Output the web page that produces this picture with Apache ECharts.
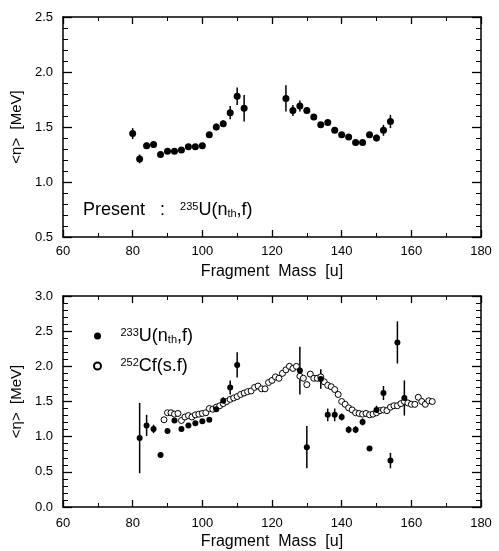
<!DOCTYPE html>
<html>
<head>
<meta charset="utf-8">
<script src="https://cdn.jsdelivr.net/npm/echarts@6/dist/echarts.min.js"></script>
<style>
  html, body { margin: 0; padding: 0; background: #fff; }
  #main { width: 499px; height: 551px; }
</style>
</head>
<body>
<div id="main"></div>
<script>
// top panel: present work, 235U(nth,f)
const topMass = [80, 82, 84, 86, 88, 90, 92, 94, 96, 98, 100, 102, 104, 106, 108, 110, 112,
  124, 126, 128, 130, 132, 134, 136, 138, 140, 142, 144, 146, 148, 150, 152, 154];
const topEta = [1.44, 1.21, 1.33, 1.34, 1.25, 1.28, 1.28, 1.29, 1.32, 1.32, 1.33, 1.43, 1.50, 1.53, 1.63, 1.78, 1.67,
  1.76, 1.65, 1.69, 1.65, 1.59, 1.52, 1.54, 1.47, 1.43, 1.41, 1.36, 1.36, 1.43, 1.40, 1.47, 1.55];
const topErr = [0.05, 0.04, 0.03, 0.03, 0.02, 0.02, 0.02, 0.02, 0.02, 0.02, 0.02, 0.02, 0.03, 0.03, 0.06, 0.08, 0.12,
  0.12, 0.05, 0.05, 0.03, 0.02, 0.02, 0.02, 0.02, 0.02, 0.02, 0.02, 0.02, 0.02, 0.03, 0.05, 0.06];

// bottom panel: 233U(nth,f)
const u233Mass = [82, 84, 86, 88, 90, 92, 94, 96, 98, 100, 102, 104, 106, 108, 110,
  128, 130, 134, 136, 138, 140, 142, 144, 146, 148, 150, 152, 154, 156, 158];
const u233Eta = [0.98, 1.16, 1.11, 0.74, 1.08, 1.23, 1.11, 1.16, 1.19, 1.22, 1.24, 1.39, 1.51, 1.70, 2.02,
  1.94, 0.85, 1.82, 1.31, 1.31, 1.28, 1.10, 1.10, 1.21, 0.83, 1.38, 1.62, 0.66, 2.34, 1.55];
const u233Err = [0.5, 0.15, 0.06, 0.04, 0, 0, 0, 0, 0, 0, 0, 0.03, 0.05, 0.1, 0.18,
  0.34, 0.3, 0.14, 0.09, 0.09, 0.05, 0.05, 0.05, 0.05, 0.03, 0.06, 0.1, 0.11, 0.3, 0.25];

// bottom panel: 252Cf(s.f)
const cfMass = [89, 90, 91, 92, 93, 94, 95, 96, 97, 98, 99, 100, 101, 102, 103, 104, 105, 106, 107, 108,
  109, 110, 111, 112, 113, 114, 115, 116, 117, 118, 119, 120, 121, 122, 123, 124, 125, 126, 127, 128,
  129, 130, 131, 132, 133, 134, 135, 136, 137, 138, 139, 140, 141, 142, 143, 144, 145, 146, 147, 148,
  149, 150, 151, 152, 153, 154, 155, 156, 157, 158, 159, 160, 161, 162, 163, 164, 165, 166];
const cfEta = [1.24, 1.34, 1.34, 1.32, 1.33, 1.23, 1.28, 1.30, 1.28, 1.31, 1.32, 1.33, 1.34, 1.40, 1.39, 1.42, 1.44, 1.47, 1.50, 1.53,
  1.55, 1.57, 1.60, 1.62, 1.64, 1.65, 1.70, 1.72, 1.68, 1.68, 1.77, 1.80, 1.85, 1.83, 1.90, 1.95, 2.00, 1.97, 2.00, 1.86,
  1.83, 1.74, 1.89, 1.83, 1.83, 1.85, 1.78, 1.73, 1.71, 1.67, 1.60, 1.50, 1.46, 1.41, 1.38, 1.34, 1.33, 1.32, 1.33, 1.31,
  1.32, 1.34, 1.37, 1.38, 1.37, 1.42, 1.44, 1.44, 1.47, 1.50, 1.48, 1.46, 1.46, 1.56, 1.50, 1.46, 1.51, 1.50];

const FONT = 'Liberation Sans, Arial, sans-serif';

const chart = echarts.init(document.getElementById('main'));

// vertical error bars
function errBar(params, api) {
  const e = api.value(2);
  if (!e) return null;
  const lo = api.coord([api.value(0), api.value(1) - e]);
  const hi = api.coord([api.value(0), api.value(1) + e]);
  return {
    type: 'line',
    shape: { x1: lo[0], y1: lo[1], x2: hi[0], y2: hi[1] },
    style: { stroke: '#000', lineWidth: 1.5 }
  };
}

function xAx(grid, pos, showLabel, labelMargin, nameGap) {
  return {
    type: 'value', gridIndex: grid, position: pos,
    min: 60, max: 180, interval: 20,
    axisLine: { show: true, onZero: false, lineStyle: { color: '#000', width: 1.5 } },
    axisTick: { show: true, inside: true, length: 7, lineStyle: { color: '#000', width: 1.3 } },
    minorTick: { show: true, splitNumber: 2, length: 4, lineStyle: { color: '#000', width: 1 } },
    splitLine: { show: false },
    axisLabel: { show: showLabel, color: '#000', fontSize: 13, fontFamily: FONT, margin: labelMargin },
    name: showLabel ? 'Fragment  Mass  [u]' : '',
    nameLocation: 'middle', nameGap: nameGap,
    nameTextStyle: { color: '#000', fontSize: 16, fontFamily: FONT }
  };
}

function yAx(grid, pos, min, max, showLabel) {
  return {
    type: 'value', gridIndex: grid, position: pos,
    min: min, max: max, interval: 0.5,
    axisLine: { show: true, onZero: false, lineStyle: { color: '#000', width: 1.5 } },
    axisTick: { show: true, inside: true, length: 9, lineStyle: { color: '#000', width: 1.3 } },
    minorTick: { show: true, splitNumber: 5, length: 5, lineStyle: { color: '#000', width: 1 } },
    splitLine: { show: false },
    axisLabel: { show: showLabel, color: '#000', fontSize: 13, fontFamily: FONT, margin: 10,
      formatter: v => v.toFixed(1) },
    name: showLabel ? '<η>  [MeV]' : '',
    nameLocation: 'middle', nameGap: 38, nameRotate: 90,
    nameTextStyle: { color: '#000', fontSize: 15, fontFamily: FONT }
  };
}

const richText = {
  n: { fontSize: 18, fontFamily: FONT, color: '#000' },
  sup: { fontSize: 11, fontFamily: FONT, color: '#000', verticalAlign: 'top' },
  sub: { fontSize: 11, fontFamily: FONT, color: '#000', verticalAlign: 'bottom' }
};

const legendNames = {
  '233U': '{sup|233}{n|U(n}{sub|th}{n|,f)}',
  '252Cf': '{sup|252}{n|Cf(s.f)}'
};

const option = {
  animation: false,
  backgroundColor: '#fff',
  grid: [
    { left: 63, top: 17, width: 418, height: 220 },
    { left: 63, top: 296, width: 418, height: 218 }
  ],
  xAxis: [xAx(0, 'bottom', true, 8, 27), xAx(0, 'top', false, 8, 27),
    xAx(1, 'bottom', true, 10, 27), xAx(1, 'top', false, 10, 27)],
  yAxis: [yAx(0, 'left', 0.5, 2.5, true), yAx(0, 'right', 0.5, 2.5, false),
    yAx(1, 'left', 0, 3, true), yAx(1, 'right', 0, 3, false)],
  legend: {
    data: ['233U', '252Cf'],
    orient: 'vertical', left: 88, top: 322, itemGap: 12,
    itemWidth: 36, itemHeight: 7,
    formatter: name => legendNames[name],
    textStyle: { rich: richText }
  },
  graphic: [{
    type: 'text', left: 83, top: 201,
    style: {
      text: '{n|Present   :   }{sup|235}{n|U(n}{sub|th}{n|,f)}',
      rich: {
        n: { fontSize: 18, fontFamily: FONT, fill: '#000' },
        sup: { fontSize: 11, fontFamily: FONT, fill: '#000', verticalAlign: 'top' },
        sub: { fontSize: 11, fontFamily: FONT, fill: '#000', verticalAlign: 'bottom' }
      }
    }
  }],
  series: [
    {
      type: 'custom', name: 'topErr', xAxisIndex: 0, yAxisIndex: 0,
      renderItem: errBar,
      data: topMass.map((m, i) => [m, topEta[i], topErr[i]]),
      silent: true
    },
    {
      type: 'scatter', name: 'present', xAxisIndex: 0, yAxisIndex: 0,
      symbol: 'circle', symbolSize: 7,
      itemStyle: { color: '#000', opacity: 1 },
      data: topMass.map((m, i) => [m, topEta[i]])
    },
    {
      type: 'custom', name: 'u233Err', xAxisIndex: 2, yAxisIndex: 2,
      renderItem: errBar,
      data: u233Mass.map((m, i) => [m, u233Eta[i], u233Err[i]]),
      silent: true
    },
    {
      type: 'scatter', name: '252Cf', xAxisIndex: 2, yAxisIndex: 2,
      symbol: 'circle', symbolSize: 6,
      itemStyle: { color: '#fff', borderColor: '#000', borderWidth: 1, opacity: 1 },
      data: cfMass.map((m, i) => [m, cfEta[i]])
    },
    {
      type: 'scatter', name: '233U', xAxisIndex: 2, yAxisIndex: 2,
      symbol: 'circle', symbolSize: 6,
      itemStyle: { color: '#000', opacity: 1 },
      data: u233Mass.map((m, i) => [m, u233Eta[i]])
    }
  ]
};

chart.setOption(option);
</script>
</body>
</html>
